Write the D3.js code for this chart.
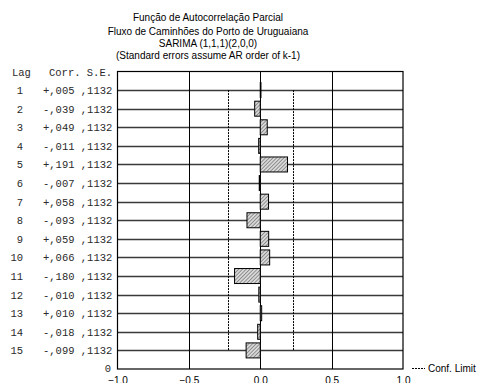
<!DOCTYPE html>
<html>
<head>
<meta charset="utf-8">
<script src="https://cdn.jsdelivr.net/npm/d3@7"></script>
<style>
  html, body { margin: 0; padding: 0; background: #fff; }
  svg { display: block; }
</style>
</head>
<body>
<svg id="chart" width="483" height="383"></svg>
<script>
// Partial autocorrelation by lag
const lags = [1, 2, 3, 4, 5, 6, 7, 8, 9, 10, 11, 12, 13, 14, 15];
const pacf = [0.005, -0.039, 0.049, -0.011, 0.191, -0.007, 0.058, -0.093, 0.059, 0.066, -0.180, -0.010, 0.010, -0.018, -0.099];
const stdErr = [0.1132, 0.1132, 0.1132, 0.1132, 0.1132, 0.1132, 0.1132, 0.1132, 0.1132, 0.1132, 0.1132, 0.1132, 0.1132, 0.1132, 0.1132];
const xTicks = [-1.0, -0.5, 0.0, 0.5, 1.0];
const titleLines = [
  "Função de Autocorrelação Parcial",
  "Fluxo de Caminhões do Porto de Uruguaiana",
  "SARIMA (1,1,1)(2,0,0)",
  "(Standard errors assume AR order of k-1)"
];

const svg = d3.select("#chart");
const plot = { left: 117.5, right: 403, top: 71.5, bottom: 369 };

const x = d3.scaleLinear().domain([-1, 1]).range([plot.left, plot.right]);
const y = d3.scaleLinear().domain([0, 16]).range([plot.top, plot.bottom]);

// Diagonal hatch fill for the bars
const defs = svg.append("defs");
const pat = defs.append("pattern")
  .attr("id", "hatch")
  .attr("patternUnits", "userSpaceOnUse")
  .attr("width", 2.6).attr("height", 2.6)
  .attr("patternTransform", "rotate(45)");
pat.append("rect").attr("width", 2.6).attr("height", 2.6).attr("fill", "#d8d8d8");
pat.append("line").attr("x1", 0).attr("y1", 0).attr("x2", 0).attr("y2", 2.6)
  .attr("stroke", "#4a4a4a").attr("stroke-width", 1);

// Titles
const titleY = [21, 35, 47, 59];
svg.append("g").selectAll("text").data(titleLines).join("text")
  .attr("x", 208).attr("y", (d, i) => titleY[i])
  .attr("text-anchor", "middle")
  .attr("font-family", "Liberation Sans, Arial, sans-serif")
  .attr("font-size", 10)
  .attr("fill", "#000")
  .text(d => d);

// Row reference lines
svg.append("g").selectAll("line").data(lags).join("line")
  .attr("x1", plot.left).attr("x2", plot.right)
  .attr("y1", d => Math.round(y(d)) + 0.5).attr("y2", d => Math.round(y(d)) + 0.5)
  .attr("stroke", "#3a3a3a").attr("stroke-width", 1.3);

// Vertical grid lines
svg.append("g").selectAll("line").data(xTicks.slice(1, -1)).join("line")
  .attr("x1", d => Math.round(x(d)) + 0.5).attr("x2", d => Math.round(x(d)) + 0.5)
  .attr("y1", plot.top).attr("y2", plot.bottom)
  .attr("stroke", "#000").attr("stroke-width", 1);

// Confidence limits (±2 S.E.)
const se = stdErr[0];
svg.append("g").selectAll("line").data([-2 * se, 2 * se]).join("line")
  .attr("x1", d => Math.round(x(d)) + 0.5).attr("x2", d => Math.round(x(d)) + 0.5)
  .attr("y1", y(lags[0])).attr("y2", y(lags[lags.length - 1]))
  .attr("stroke", "#000").attr("stroke-width", 1)
  .attr("stroke-dasharray", "2,1");

// Bars
const barH = 15;
svg.append("g").selectAll("rect").data(lags).join("rect")
  .attr("x", (d, i) => x(Math.min(0, pacf[i])))
  .attr("y", d => y(d) - barH / 2)
  .attr("width", (d, i) => Math.abs(x(pacf[i]) - x(0)))
  .attr("height", barH)
  .attr("fill", "url(#hatch)")
  .attr("stroke", "#000").attr("stroke-width", 1);

// Plot frame
svg.append("rect")
  .attr("x", plot.left).attr("y", plot.top)
  .attr("width", plot.right - plot.left).attr("height", plot.bottom - plot.top)
  .attr("fill", "none").attr("stroke", "#000").attr("stroke-width", 1.2);

// Bottom axis labels
const xAxis = d3.axisBottom(x).tickValues(xTicks).tickSize(0).tickPadding(8)
  .tickFormat(d3.format(".1f"));
const gx = svg.append("g").attr("transform", `translate(0,${plot.bottom})`).call(xAxis);
gx.select(".domain").remove();
gx.selectAll("text")
  .attr("font-family", "Liberation Sans, Arial, sans-serif")
  .attr("font-size", 10).attr("fill", "#000");

// Left table: lag, correlation, standard error
const mono = "Liberation Mono, Courier New, monospace";
const ink = "#2a2a2a";
const fmtCorr = v => (v >= 0 ? "+" : "-") + d3.format(".3f")(Math.abs(v)).replace("0.", ",");
const fmtSE = v => d3.format(".4f")(v).replace("0.", ",");

svg.append("text").attr("x", 12).attr("y", y(0) + 4)
  .attr("font-family", mono).attr("font-size", 10.5).attr("fill", ink)
  .text("Lag");
svg.append("text").attr("x", 49).attr("y", y(0) + 4)
  .attr("font-family", mono).attr("font-size", 10.5).attr("fill", ink)
  .text("Corr. S.E.");

const rows = svg.append("g");
rows.selectAll("text.lag").data(lags).join("text")
  .attr("class", "lag")
  .attr("x", 23).attr("y", d => y(d) + 4)
  .attr("text-anchor", "end")
  .attr("font-family", mono).attr("font-size", 10.5).attr("fill", ink)
  .text(d => d);
rows.selectAll("text.val").data(lags).join("text")
  .attr("class", "val")
  .attr("x", 43).attr("y", d => y(d) + 4)
  .attr("font-family", mono).attr("font-size", 10.5).attr("fill", ink)
  .attr("xml:space", "preserve")
  .text((d, i) => fmtCorr(pacf[i]) + " " + fmtSE(stdErr[i]));

svg.append("text").attr("x", 111).attr("y", plot.bottom + 3)
  .attr("text-anchor", "end")
  .attr("font-family", mono).attr("font-size", 10.5).attr("fill", ink)
  .text("0");

// Legend
svg.append("line")
  .attr("x1", 412).attr("x2", 425).attr("y1", 368.5).attr("y2", 368.5)
  .attr("stroke", "#000").attr("stroke-width", 1).attr("stroke-dasharray", "2,1");
svg.append("text").attr("x", 428).attr("y", 372)
  .attr("font-family", "Liberation Sans, Arial, sans-serif")
  .attr("font-size", 10).attr("fill", "#000")
  .text("Conf. Limit");
</script>
</body>
</html>
